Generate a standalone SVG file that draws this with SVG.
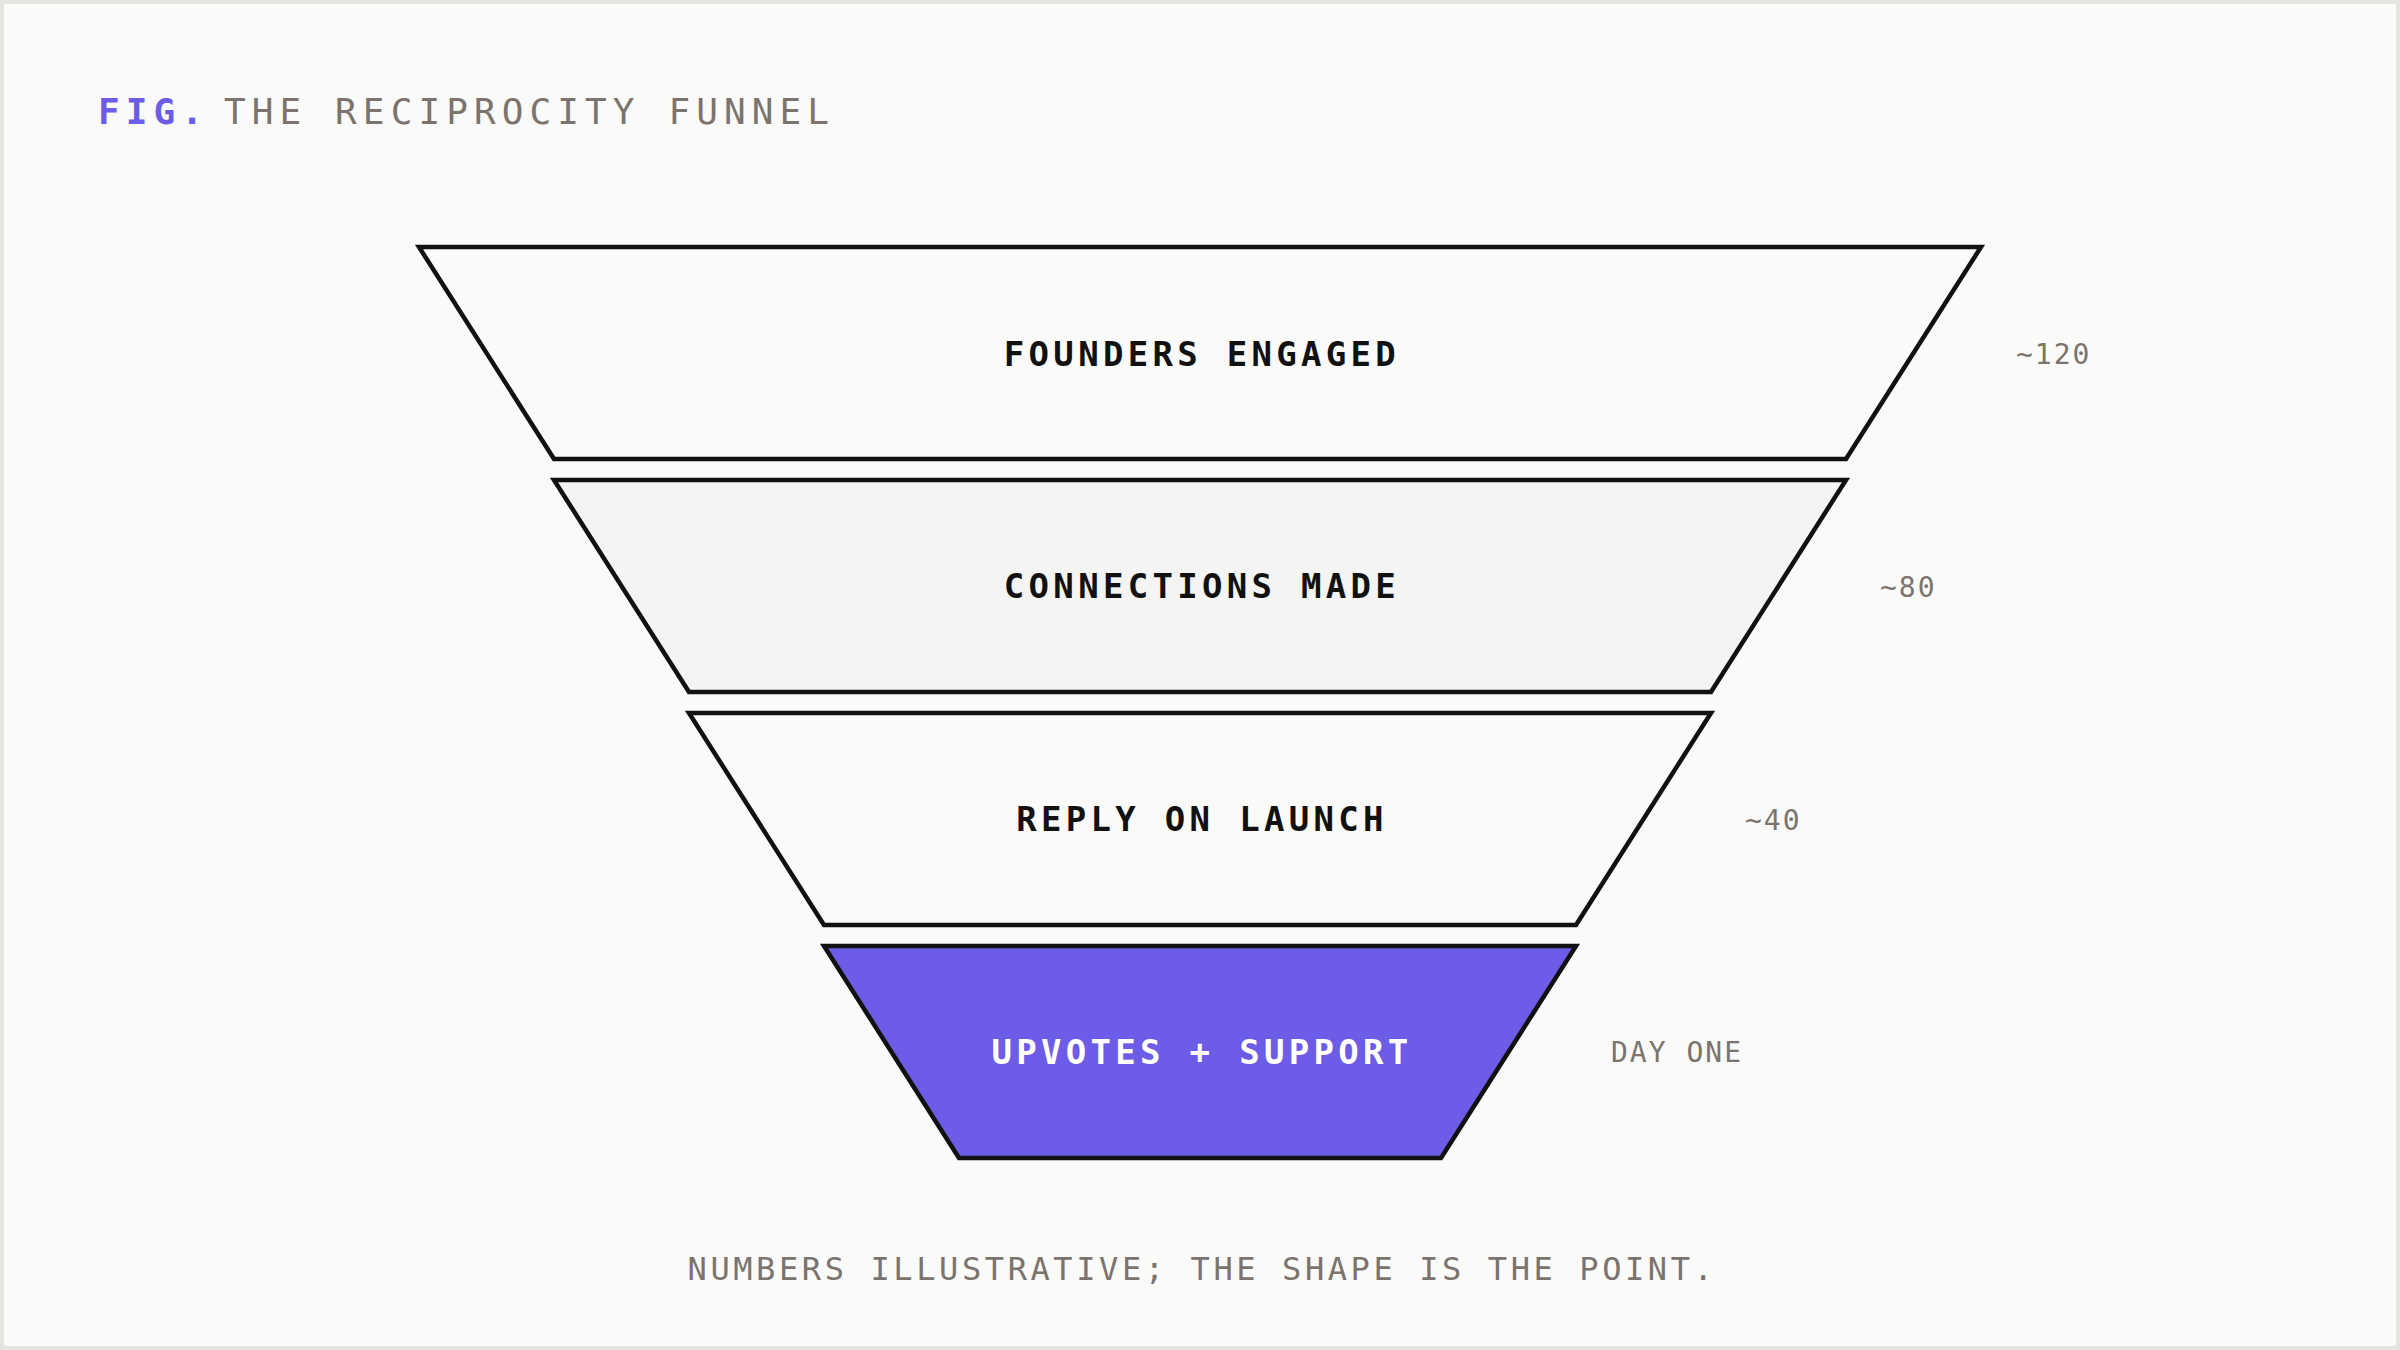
<svg xmlns="http://www.w3.org/2000/svg" width="2400" height="1350" viewBox="0 0 2400 1350">
  <style>
    .mono { font-family: "DejaVu Sans Mono", "Liberation Mono", monospace; }
    .title { font-size: 36px; letter-spacing: 6.1px; fill: #7a736e; }
    .fig { fill: #6c5ce7; font-weight: bold; }
    .tier { stroke: #111111; stroke-width: 4.5; stroke-linejoin: miter; }
    .lbl { font-size: 34px; font-weight: bold; letter-spacing: 4.3px; fill: #111111; text-anchor: middle; }
    .side { font-size: 28px; letter-spacing: 2px; fill: #7a736e; }
    .note { font-size: 32px; letter-spacing: 3.6px; fill: #7a736e; text-anchor: middle; }
  </style>
  <rect x="2" y="2" width="2396" height="1346" fill="#fafaf8" stroke="#e5e4e1" stroke-width="4"/>
  <text class="mono title" x="98" y="124"><tspan class="fig">FIG.</tspan><tspan x="224">THE RECIPROCITY FUNNEL</tspan></text>

  <g id="connectors"></g>

  <g id="tier-founders">
    <polygon class="tier" points="419,247 1981,247 1846,459 554,459" fill="#fafaf8"/>
    <text class="mono lbl" x="1202" y="366">FOUNDERS ENGAGED</text>
    <text class="mono side" x="2016" y="364">~120</text>
  </g>
  <g id="tier-connections">
    <polygon class="tier" points="554,480 1846,480 1711,692 689,692" fill="#f4f4f2"/>
    <text class="mono lbl" x="1202" y="598">CONNECTIONS MADE</text>
    <text class="mono side" x="1880" y="597">~80</text>
  </g>
  <g id="tier-reply">
    <polygon class="tier" points="689,713 1711,713 1576,925 824,925" fill="#fafaf8"/>
    <text class="mono lbl" x="1202" y="831">REPLY ON LAUNCH</text>
    <text class="mono side" x="1745" y="830">~40</text>
  </g>
  <g id="tier-upvotes">
    <polygon class="tier" points="824,946 1576,946 1441,1158 959,1158" fill="#6c5ce7"/>
    <text class="mono lbl" x="1202" y="1064" style="fill:#ffffff">UPVOTES + SUPPORT</text>
    <text class="mono side" x="1611" y="1062">DAY ONE</text>
  </g>

  <text class="mono note" x="1202" y="1280">NUMBERS ILLUSTRATIVE; THE SHAPE IS THE POINT.</text>
</svg>
